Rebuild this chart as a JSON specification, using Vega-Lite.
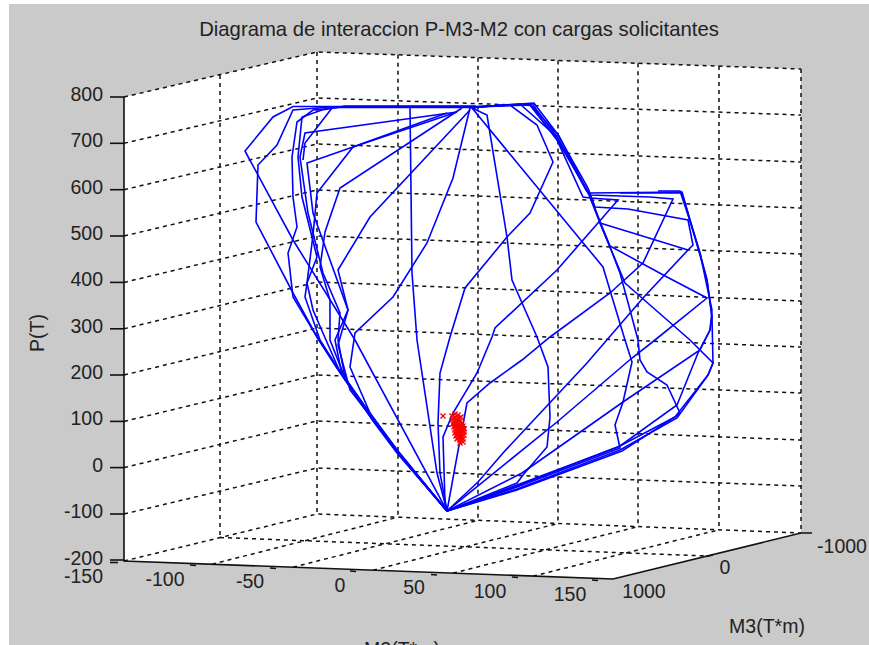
{"$schema":"https://vega.github.io/schema/vega-lite/v6.json","width":869,"height":645,"padding":0,"autosize":"none","background":"#ffffff","config":{"view":{"stroke":null}},
"encoding":{"x":{"field":"x","type":"quantitative","scale":{"domain":[0,869],"nice":false,"zero":false},"axis":null},"y":{"field":"y","type":"quantitative","scale":{"domain":[645,0],"nice":false,"zero":false},"axis":null}},
"layer":[
{"data":{"values":[{"x":9,"x2":869,"y":4,"y2":645}]},"mark":{"type":"rect","color":"#cacaca"},"encoding":{"x2":{"field":"x2"},"y2":{"field":"y2"}}},
{"data":{"values":[{"x":124,"y":97,"y2":561},{"x":317,"y":52,"y2":568},{"x":613,"y":62.4,"y2":579},{"x":801,"y":69,"y2":533}]},"mark":{"type":"area","color":"#ffffff","interpolate":"linear"},"encoding":{"y2":{"field":"y2"}}},
{"data":{"values":[
{"g":"p800","i":0,"x":124,"y":97},{"g":"p800","i":1,"x":317,"y":52},{"g":"p800","i":2,"x":801,"y":69},
{"g":"p700","i":0,"x":124,"y":143.3},{"g":"p700","i":1,"x":317,"y":98},{"g":"p700","i":2,"x":801,"y":115},
{"g":"p600","i":0,"x":124,"y":189.7},{"g":"p600","i":1,"x":317,"y":144},{"g":"p600","i":2,"x":801,"y":162},
{"g":"p500","i":0,"x":124,"y":236},{"g":"p500","i":1,"x":317,"y":190},{"g":"p500","i":2,"x":801,"y":208},
{"g":"p400","i":0,"x":124,"y":282.4},{"g":"p400","i":1,"x":317,"y":236},{"g":"p400","i":2,"x":801,"y":254},
{"g":"p300","i":0,"x":124,"y":328.8},{"g":"p300","i":1,"x":317,"y":282},{"g":"p300","i":2,"x":801,"y":301},
{"g":"p200","i":0,"x":124,"y":375},{"g":"p200","i":1,"x":317,"y":328},{"g":"p200","i":2,"x":801,"y":347},
{"g":"p100","i":0,"x":124,"y":421.4},{"g":"p100","i":1,"x":317,"y":375},{"g":"p100","i":2,"x":801,"y":393},
{"g":"p0","i":0,"x":124,"y":467.6},{"g":"p0","i":1,"x":317,"y":421},{"g":"p0","i":2,"x":801,"y":440},
{"g":"pm100","i":0,"x":124,"y":514},{"g":"pm100","i":1,"x":317,"y":468},{"g":"pm100","i":2,"x":801,"y":486},
{"g":"pm200","i":0,"x":124,"y":561},{"g":"pm200","i":1,"x":317,"y":514},{"g":"pm200","i":2,"x":801,"y":533},
{"g":"w0","i":0,"x":220,"y":75},{"g":"w0","i":1,"x":220,"y":537.5},
{"g":"w1","i":0,"x":317,"y":52},{"g":"w1","i":1,"x":317,"y":514},
{"g":"b1","i":0,"x":398,"y":54.8},{"g":"b1","i":1,"x":398,"y":517.2},
{"g":"b2","i":0,"x":478,"y":57.7},{"g":"b2","i":1,"x":478,"y":520.3},
{"g":"b3","i":0,"x":558,"y":60.5},{"g":"b3","i":1,"x":558,"y":523.5},
{"g":"b4","i":0,"x":638,"y":63.3},{"g":"b4","i":1,"x":638,"y":526.6},
{"g":"b5","i":0,"x":719,"y":66.1},{"g":"b5","i":1,"x":719,"y":529.8},
{"g":"b6","i":0,"x":801,"y":69},{"g":"b6","i":1,"x":801,"y":533},
{"g":"f1","i":0,"x":212,"y":564.2},{"g":"f1","i":1,"x":398,"y":517.2},
{"g":"f2","i":0,"x":293,"y":567.2},{"g":"f2","i":1,"x":478,"y":520.3},
{"g":"f3","i":0,"x":373,"y":570.2},{"g":"f3","i":1,"x":558,"y":523.5},
{"g":"f4","i":0,"x":453,"y":573.1},{"g":"f4","i":1,"x":638,"y":526.6},
{"g":"f5","i":0,"x":533,"y":576.1},{"g":"f5","i":1,"x":719,"y":529.8},
{"g":"m0","i":0,"x":220,"y":537.5},{"g":"m0","i":1,"x":707,"y":556}
]},"mark":{"type":"line","color":"#111111","strokeWidth":1.5,"strokeDash":[4,4],"interpolate":"linear"},"encoding":{"detail":{"field":"g"},"order":{"field":"i"}}},
{"data":{"values":[
{"g":"zaxis","i":0,"x":124,"y":97},{"g":"zaxis","i":1,"x":124,"y":561},{"g":"zaxis","i":2,"x":613,"y":579},{"g":"zaxis","i":3,"x":801,"y":533},{"g":"zaxis","i":4,"x":812,"y":533},
{"g":"t800","i":0,"x":110,"y":97},{"g":"t800","i":1,"x":124,"y":97},
{"g":"t700","i":0,"x":110,"y":143.3},{"g":"t700","i":1,"x":124,"y":143.3},
{"g":"t600","i":0,"x":110,"y":189.7},{"g":"t600","i":1,"x":124,"y":189.7},
{"g":"t500","i":0,"x":110,"y":236},{"g":"t500","i":1,"x":124,"y":236},
{"g":"t400","i":0,"x":110,"y":282.4},{"g":"t400","i":1,"x":124,"y":282.4},
{"g":"t300","i":0,"x":110,"y":328.8},{"g":"t300","i":1,"x":124,"y":328.8},
{"g":"t200","i":0,"x":110,"y":375},{"g":"t200","i":1,"x":124,"y":375},
{"g":"t100","i":0,"x":110,"y":421.4},{"g":"t100","i":1,"x":124,"y":421.4},
{"g":"t0","i":0,"x":110,"y":467.6},{"g":"t0","i":1,"x":124,"y":467.6},
{"g":"tm100","i":0,"x":110,"y":514},{"g":"tm100","i":1,"x":124,"y":514},
{"g":"tm200","i":0,"x":110,"y":560},{"g":"tm200","i":1,"x":124,"y":560},
{"g":"tm150","i":0,"x":110,"y":562.5},{"g":"tm150","i":1,"x":118,"y":562.5},
{"g":"a1","i":0,"x":190,"y":565},{"g":"a1","i":1,"x":196,"y":565.5},
{"g":"a2","i":0,"x":270,"y":568},{"g":"a2","i":1,"x":276,"y":568.5},
{"g":"a3","i":0,"x":350,"y":571},{"g":"a3","i":1,"x":356,"y":571.5},
{"g":"a4","i":0,"x":431,"y":574.5},{"g":"a4","i":1,"x":437,"y":575},
{"g":"a5","i":0,"x":512,"y":577},{"g":"a5","i":1,"x":518,"y":577.5},
{"g":"a6","i":0,"x":592,"y":580},{"g":"a6","i":1,"x":598,"y":580.5},
{"g":"a7","i":0,"x":706,"y":556.5},{"g":"a7","i":1,"x":713,"y":555}
]},"mark":{"type":"line","color":"#111111","strokeWidth":1.6,"interpolate":"linear"},"encoding":{"detail":{"field":"g"},"order":{"field":"i"}}},
{"data":{"values":[
{"c":1,"i":0,"x":447,"y":511},{"c":1,"i":1,"x":355,"y":340},{"c":1,"i":2,"x":293,"y":240},{"c":1,"i":3,"x":245,"y":151},{"c":1,"i":4,"x":273,"y":117},{"c":1,"i":5,"x":293,"y":106.5},{"c":1,"i":6,"x":400,"y":106.5},{"c":1,"i":7,"x":476,"y":106.5},{"c":1,"i":8,"x":535,"y":104},
{"c":2,"i":0,"x":447,"y":511},{"c":2,"i":1,"x":397,"y":452},{"c":2,"i":2,"x":373,"y":420},{"c":2,"i":3,"x":337,"y":368},{"c":2,"i":4,"x":317,"y":337},{"c":2,"i":5,"x":293,"y":293},{"c":2,"i":6,"x":256,"y":222},{"c":2,"i":7,"x":258,"y":165},{"c":2,"i":8,"x":277,"y":145},{"c":2,"i":9,"x":293,"y":110},{"c":2,"i":10,"x":330,"y":107},{"c":2,"i":11,"x":476,"y":107},
{"c":3,"i":0,"x":447,"y":511},{"c":3,"i":1,"x":397,"y":453},{"c":3,"i":2,"x":373,"y":421},{"c":3,"i":3,"x":337,"y":368},{"c":3,"i":4,"x":317,"y":337},{"c":3,"i":5,"x":293,"y":297},{"c":3,"i":6,"x":288,"y":253},{"c":3,"i":7,"x":297,"y":227},{"c":3,"i":8,"x":293,"y":197},{"c":3,"i":9,"x":292,"y":157},{"c":3,"i":10,"x":297,"y":122},{"c":3,"i":11,"x":313,"y":110},{"c":3,"i":12,"x":340,"y":107.5},{"c":3,"i":13,"x":476,"y":107.5},
{"c":4,"i":0,"x":447,"y":511},{"c":4,"i":1,"x":398,"y":452},{"c":4,"i":2,"x":374,"y":420},{"c":4,"i":3,"x":337,"y":367},{"c":4,"i":4,"x":320,"y":340},{"c":4,"i":5,"x":305,"y":297},{"c":4,"i":6,"x":307,"y":283},{"c":4,"i":7,"x":317,"y":257},{"c":4,"i":8,"x":302,"y":197},{"c":4,"i":9,"x":298,"y":157},{"c":4,"i":10,"x":302,"y":117},{"c":4,"i":11,"x":322,"y":110},{"c":4,"i":12,"x":345,"y":106},{"c":4,"i":13,"x":476,"y":106},
{"c":5,"i":0,"x":447,"y":511},{"c":5,"i":1,"x":397,"y":451},{"c":5,"i":2,"x":373,"y":418},{"c":5,"i":3,"x":345,"y":378},{"c":5,"i":4,"x":338,"y":340},{"c":5,"i":5,"x":340,"y":313},{"c":5,"i":6,"x":323,"y":273},{"c":5,"i":7,"x":308,"y":213},{"c":5,"i":8,"x":300,"y":157},{"c":5,"i":9,"x":305,"y":133},{"c":5,"i":10,"x":457,"y":112},
{"c":6,"i":0,"x":447,"y":511},{"c":6,"i":1,"x":398,"y":453},{"c":6,"i":2,"x":372,"y":418},{"c":6,"i":3,"x":342,"y":375},{"c":6,"i":4,"x":335,"y":340},{"c":6,"i":5,"x":348,"y":310},{"c":6,"i":6,"x":313,"y":213},{"c":6,"i":7,"x":307,"y":163},{"c":6,"i":8,"x":353,"y":147},{"c":6,"i":9,"x":457,"y":112},
{"c":7,"i":0,"x":447,"y":511},{"c":7,"i":1,"x":397,"y":452},{"c":7,"i":2,"x":373,"y":419},{"c":7,"i":3,"x":340,"y":372},{"c":7,"i":4,"x":326,"y":340},{"c":7,"i":5,"x":313,"y":310},{"c":7,"i":6,"x":307,"y":283},{"c":7,"i":7,"x":313,"y":235},{"c":7,"i":8,"x":317,"y":193},{"c":7,"i":9,"x":353,"y":147},{"c":7,"i":10,"x":447,"y":113},
{"c":8,"i":0,"x":447,"y":511},{"c":8,"i":1,"x":398,"y":451},{"c":8,"i":2,"x":374,"y":419},{"c":8,"i":3,"x":345,"y":378},{"c":8,"i":4,"x":330,"y":340},{"c":8,"i":5,"x":330,"y":300},{"c":8,"i":6,"x":320,"y":267},{"c":8,"i":7,"x":325,"y":232},{"c":8,"i":8,"x":340,"y":188},{"c":8,"i":9,"x":462,"y":108},
{"c":9,"i":0,"x":447,"y":511},{"c":9,"i":1,"x":398,"y":452},{"c":9,"i":2,"x":350,"y":390},{"c":9,"i":3,"x":338,"y":345},{"c":9,"i":4,"x":348,"y":310},{"c":9,"i":5,"x":338,"y":270},{"c":9,"i":6,"x":370,"y":217},{"c":9,"i":7,"x":470,"y":110},
{"c":10,"i":0,"x":447,"y":511},{"c":10,"i":1,"x":397,"y":450},{"c":10,"i":2,"x":370,"y":413},{"c":10,"i":3,"x":350,"y":367},{"c":10,"i":4,"x":355,"y":333},{"c":10,"i":5,"x":393,"y":297},{"c":10,"i":6,"x":427,"y":243},{"c":10,"i":7,"x":453,"y":178},{"c":10,"i":8,"x":470,"y":108},
{"c":11,"i":0,"x":447,"y":511},{"c":11,"i":1,"x":437,"y":473},{"c":11,"i":2,"x":417,"y":340},{"c":11,"i":3,"x":412,"y":273},{"c":11,"i":4,"x":410,"y":107},
{"c":12,"i":0,"x":447,"y":511},{"c":12,"i":1,"x":440,"y":473},{"c":12,"i":2,"x":438,"y":423},{"c":12,"i":3,"x":440,"y":373},{"c":12,"i":4,"x":450,"y":337},{"c":12,"i":5,"x":465,"y":288},{"c":12,"i":6,"x":507,"y":237},{"c":12,"i":7,"x":530,"y":213},{"c":12,"i":8,"x":553,"y":162},{"c":12,"i":9,"x":537,"y":125},{"c":12,"i":10,"x":510,"y":105},{"c":12,"i":11,"x":476,"y":107},
{"c":13,"i":0,"x":447,"y":511},{"c":13,"i":1,"x":445,"y":503},{"c":13,"i":2,"x":443,"y":437},{"c":13,"i":3,"x":453,"y":413},{"c":13,"i":4,"x":477,"y":373},{"c":13,"i":5,"x":492,"y":337},{"c":13,"i":6,"x":495,"y":328},{"c":13,"i":7,"x":557,"y":270},{"c":13,"i":8,"x":618,"y":200},{"c":13,"i":9,"x":590,"y":198},{"c":13,"i":10,"x":583,"y":197},{"c":13,"i":11,"x":557,"y":140},{"c":13,"i":12,"x":530,"y":105},{"c":13,"i":13,"x":476,"y":107},
{"c":14,"i":0,"x":447,"y":511},{"c":14,"i":1,"x":460,"y":440},{"c":14,"i":2,"x":467,"y":403},{"c":14,"i":3,"x":490,"y":383},{"c":14,"i":4,"x":522,"y":360},{"c":14,"i":5,"x":550,"y":337},{"c":14,"i":6,"x":610,"y":293},{"c":14,"i":7,"x":643,"y":263},{"c":14,"i":8,"x":673,"y":199},{"c":14,"i":9,"x":650,"y":197},{"c":14,"i":10,"x":590,"y":195},{"c":14,"i":11,"x":586,"y":190},{"c":14,"i":12,"x":557,"y":137},{"c":14,"i":13,"x":520,"y":104},{"c":14,"i":14,"x":476,"y":107},
{"c":15,"i":0,"x":447,"y":511},{"c":15,"i":1,"x":478,"y":482},{"c":15,"i":2,"x":503,"y":453},{"c":15,"i":3,"x":587,"y":363},{"c":15,"i":4,"x":643,"y":298},{"c":15,"i":5,"x":688,"y":250},{"c":15,"i":6,"x":693,"y":245},{"c":15,"i":7,"x":688,"y":220},{"c":15,"i":8,"x":628,"y":209},{"c":15,"i":9,"x":595,"y":207},{"c":15,"i":10,"x":588,"y":188},{"c":15,"i":11,"x":558,"y":135},{"c":15,"i":12,"x":530,"y":104},{"c":15,"i":13,"x":476,"y":107},
{"c":16,"i":0,"x":447,"y":511},{"c":16,"i":1,"x":517,"y":483},{"c":16,"i":2,"x":523,"y":475},{"c":16,"i":3,"x":547,"y":447},{"c":16,"i":4,"x":550,"y":417},{"c":16,"i":5,"x":548,"y":367},{"c":16,"i":6,"x":537,"y":337},{"c":16,"i":7,"x":512,"y":280},{"c":16,"i":8,"x":507,"y":237},{"c":16,"i":9,"x":487,"y":115},{"c":16,"i":10,"x":472,"y":108},{"c":16,"i":11,"x":500,"y":105},
{"c":17,"i":0,"x":447,"y":511},{"c":17,"i":1,"x":517,"y":487},{"c":17,"i":2,"x":620,"y":448},{"c":17,"i":3,"x":615,"y":425},{"c":17,"i":4,"x":623,"y":402},{"c":17,"i":5,"x":632,"y":362},{"c":17,"i":6,"x":625,"y":340},{"c":17,"i":7,"x":612,"y":297},{"c":17,"i":8,"x":603,"y":267},{"c":17,"i":9,"x":472,"y":108},
{"c":18,"i":0,"x":447,"y":511},{"c":18,"i":1,"x":517,"y":485},{"c":18,"i":2,"x":618,"y":447},{"c":18,"i":3,"x":675,"y":417},{"c":18,"i":4,"x":680,"y":413},{"c":18,"i":5,"x":667,"y":385},{"c":18,"i":6,"x":647,"y":372},{"c":18,"i":7,"x":640,"y":360},{"c":18,"i":8,"x":638,"y":340},{"c":18,"i":9,"x":630,"y":310},{"c":18,"i":10,"x":620,"y":273},{"c":18,"i":11,"x":610,"y":247},{"c":18,"i":12,"x":600,"y":223},{"c":18,"i":13,"x":587,"y":190},{"c":18,"i":14,"x":557,"y":137},{"c":18,"i":15,"x":533,"y":105},
{"c":19,"i":0,"x":447,"y":511},{"c":19,"i":1,"x":517,"y":489},{"c":19,"i":2,"x":620,"y":450},{"c":19,"i":3,"x":677,"y":418},{"c":19,"i":4,"x":708,"y":375},{"c":19,"i":5,"x":713,"y":363},{"c":19,"i":6,"x":690,"y":340},{"c":19,"i":7,"x":642,"y":298},{"c":19,"i":8,"x":625,"y":283},{"c":19,"i":9,"x":610,"y":247},{"c":19,"i":10,"x":600,"y":223},{"c":19,"i":11,"x":688,"y":250},
{"c":20,"i":0,"x":447,"y":511},{"c":20,"i":1,"x":557,"y":422},{"c":20,"i":2,"x":632,"y":358},{"c":20,"i":3,"x":655,"y":340},{"c":20,"i":4,"x":707,"y":298},{"c":20,"i":5,"x":667,"y":277},{"c":20,"i":6,"x":610,"y":246},{"c":20,"i":7,"x":601,"y":224},{"c":20,"i":8,"x":590,"y":195},{"c":20,"i":9,"x":556,"y":138},{"c":20,"i":10,"x":531,"y":106},
{"c":21,"i":0,"x":447,"y":511},{"c":21,"i":1,"x":517,"y":490},{"c":21,"i":2,"x":622,"y":451},{"c":21,"i":3,"x":675,"y":417},{"c":21,"i":4,"x":708,"y":375},{"c":21,"i":5,"x":713,"y":363},{"c":21,"i":6,"x":712,"y":317},{"c":21,"i":7,"x":707,"y":280},{"c":21,"i":8,"x":700,"y":253},{"c":21,"i":9,"x":690,"y":220},{"c":21,"i":10,"x":682,"y":192},{"c":21,"i":11,"x":588,"y":193},{"c":21,"i":12,"x":559,"y":136},{"c":21,"i":13,"x":534,"y":103},{"c":21,"i":14,"x":476,"y":107},
{"c":22,"i":0,"x":447,"y":511},{"c":22,"i":1,"x":522,"y":473},{"c":22,"i":2,"x":623,"y":402},{"c":22,"i":3,"x":700,"y":350},{"c":22,"i":4,"x":710,"y":330},{"c":22,"i":5,"x":712,"y":317},{"c":22,"i":6,"x":707,"y":280},{"c":22,"i":7,"x":690,"y":220},{"c":22,"i":8,"x":682,"y":193},{"c":22,"i":9,"x":620,"y":193},
{"c":23,"i":0,"x":447,"y":511},{"c":23,"i":1,"x":517,"y":486},{"c":23,"i":2,"x":620,"y":446},{"c":23,"i":3,"x":677,"y":405},{"c":23,"i":4,"x":698,"y":353},{"c":23,"i":5,"x":710,"y":330},{"c":23,"i":6,"x":712,"y":310},{"c":23,"i":7,"x":700,"y":253},{"c":23,"i":8,"x":688,"y":215},{"c":23,"i":9,"x":680,"y":191},{"c":23,"i":10,"x":658,"y":191},
{"c":24,"i":0,"x":332,"y":108},{"c":24,"i":1,"x":305,"y":143},{"c":24,"i":2,"x":303,"y":160}
]},"mark":{"type":"line","color":"#0000ff","strokeWidth":1.6,"interpolate":"linear"},"encoding":{"detail":{"field":"c"},"order":{"field":"i"}}},
{"data":{"values":[{"x":443,"y":416},{"x":452,"y":416},{"x":455,"y":414},{"x":458,"y":415},{"x":453,"y":419},{"x":456,"y":419},{"x":459,"y":418},{"x":461,"y":417},{"x":454,"y":422},{"x":457,"y":422},{"x":460,"y":421},{"x":453,"y":424},{"x":456,"y":425},{"x":459,"y":424},{"x":462,"y":423},{"x":454,"y":427},{"x":457,"y":428},{"x":460,"y":427},{"x":463,"y":426},{"x":455,"y":430},{"x":458,"y":431},{"x":461,"y":430},{"x":464,"y":429},{"x":455,"y":433},{"x":458,"y":434},{"x":461,"y":433},{"x":464,"y":432},{"x":456,"y":436},{"x":459,"y":437},{"x":462,"y":436},{"x":464,"y":435},{"x":457,"y":439},{"x":460,"y":440},{"x":463,"y":439},{"x":460,"y":443},{"x":463,"y":442},{"x":455,"y":417},{"x":457,"y":420},{"x":455,"y":424},{"x":458,"y":426},{"x":461,"y":425},{"x":456,"y":429},{"x":459,"y":429},{"x":462,"y":428},{"x":457,"y":432},{"x":460,"y":432},{"x":463,"y":431},{"x":457,"y":435},{"x":460,"y":435},{"x":458,"y":438},{"x":461,"y":438}]},"mark":{"type":"point","shape":"M-1,-1L1,1M-1,1L1,-1","color":"#ff0000","filled":false,"size":26,"strokeWidth":1.3,"opacity":1}},
{"data":{"values":[{"x":459,"y":30,"t":"Diagrama de interaccion P-M3-M2 con cargas solicitantes"}]},"mark":{"type":"text","font":"Liberation Sans","fontSize":20.3,"color":"#222222","align":"center","baseline":"middle"},"encoding":{"text":{"field":"t"}}},
{"data":{"values":[{"x":103,"y":95,"t":"800"},{"x":103,"y":141,"t":"700"},{"x":103,"y":188,"t":"600"},{"x":103,"y":234,"t":"500"},{"x":103,"y":280,"t":"400"},{"x":103,"y":327,"t":"300"},{"x":103,"y":373,"t":"200"},{"x":103,"y":419,"t":"100"},{"x":103,"y":466,"t":"0"},{"x":103,"y":512,"t":"-100"},{"x":103,"y":559,"t":"-200"},{"x":103,"y":577,"t":"-150"}]},"mark":{"type":"text","font":"Liberation Sans","fontSize":19.5,"color":"#222222","align":"right","baseline":"middle"},"encoding":{"text":{"field":"t"}}},
{"data":{"values":[{"x":165,"y":580,"t":"-100"},{"x":250,"y":582,"t":"-50"},{"x":340,"y":586,"t":"0"},{"x":414,"y":588,"t":"50"},{"x":490,"y":592,"t":"100"},{"x":570,"y":595,"t":"150"},{"x":644,"y":592,"t":"1000"},{"x":725,"y":568,"t":"0"},{"x":842,"y":547,"t":"-1000"},{"x":767,"y":627,"t":"M3(T*m)"}]},"mark":{"type":"text","font":"Liberation Sans","fontSize":19.5,"color":"#222222","align":"center","baseline":"middle"},"encoding":{"text":{"field":"t"}}},
{"data":{"values":[{"x":402,"y":641,"t":"M2(T*m)"}]},"mark":{"type":"text","font":"Liberation Sans","fontSize":19.5,"color":"#222222","align":"center","baseline":"top"},"encoding":{"text":{"field":"t"}}},
{"data":{"values":[{"x":38,"y":333,"t":"P(T)"}]},"mark":{"type":"text","font":"Liberation Sans","fontSize":19.5,"color":"#222222","align":"center","baseline":"middle","angle":270},"encoding":{"text":{"field":"t"}}}
]}
